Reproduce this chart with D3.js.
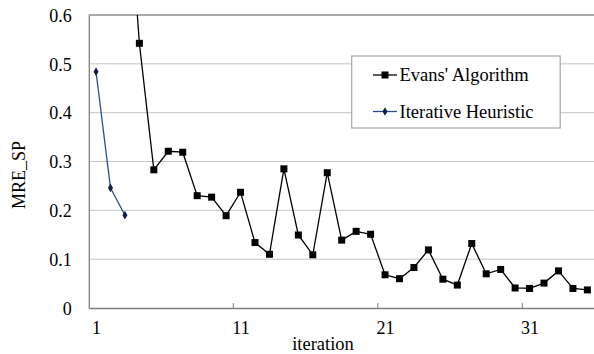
<!DOCTYPE html>
<html>
<head>
<meta charset="utf-8">
<script src="https://cdn.jsdelivr.net/npm/d3@7"></script>
<style>
  html, body { margin: 0; padding: 0; background: #fff; }
  svg { display: block; }
</style>
</head>
<body>
<svg id="chart" width="594" height="354"></svg>
<script>
// ---- data ----
const iterations = d3.range(1, 36);
const evansValues = [null, null, 0.95, 0.542, 0.283, 0.321, 0.319, 0.230, 0.227, 0.189,
  0.237, 0.134, 0.110, 0.285, 0.1495, 0.109, 0.277, 0.139, 0.157, 0.151,
  0.068, 0.060, 0.083, 0.119, 0.059, 0.047, 0.132, 0.070, 0.079, 0.041,
  0.040, 0.051, 0.076, 0.040, 0.037];
const heuristicValues = [0.484, 0.246, 0.190];
const yTicks = [0, 0.1, 0.2, 0.3, 0.4, 0.5, 0.6];
const xTickLabels = [1, 11, 21, 31];
const seriesNames = ["Evans' Algorithm", "Iterative Heuristic"];

// ---- layout ----
const FONT = "'Liberation Serif', 'Times New Roman', serif";
const svg = d3.select("#chart");
const pLeft = 88.8, pRight = 594.6, pTop = 15, pBottom = 308;
const x = d3.scaleLinear().domain([0.5, 35.5]).range([pLeft, pRight]);
const y = d3.scaleLinear().domain([0, 0.6]).range([pBottom, pTop]);

svg.append("defs").append("clipPath").attr("id", "plotclip")
  .append("rect").attr("x", pLeft).attr("y", pTop).attr("width", pRight - pLeft).attr("height", pBottom - pTop);

// gridlines
svg.append("g").selectAll("line").data(yTicks.filter(d => d > 0 && d < 0.6)).join("line")
  .attr("x1", pLeft).attr("x2", pRight)
  .attr("y1", d => y(d)).attr("y2", d => y(d))
  .attr("stroke", "#c4c4c4").attr("stroke-width", 1);

// plot border (top)
svg.append("line").attr("x1", pLeft).attr("x2", pRight).attr("y1", y(0.6)).attr("y2", y(0.6))
  .attr("stroke", "#8c8c8c").attr("stroke-width", 1.3);

// y axis
const yAxis = d3.axisLeft(y).tickValues(yTicks).tickSize(0).tickPadding(17)
  .tickFormat(d => d === 0 ? "0" : d3.format(".1f")(d));
const gy = svg.append("g").attr("transform", `translate(${pLeft},0)`).call(yAxis);
gy.select(".domain").attr("stroke", "#7f7f7f").attr("stroke-width", 1.3);
gy.selectAll("text").style("font-size", "18px").attr("dy", "0.35em");

// x axis
const xAxis = d3.axisBottom(x).tickValues(xTickLabels).tickSize(0).tickPadding(13)
  .tickFormat(d3.format("d"));
const gx = svg.append("g").attr("transform", `translate(0,${pBottom})`).call(xAxis);
gx.select(".domain").attr("stroke", "#7f7f7f").attr("stroke-width", 1.3);
gx.selectAll("text").style("font-size", "18px");
// inner tick marks between categories
gx.append("g").selectAll("line").data([10.5, 20.5, 30.5]).join("line")
  .attr("x1", d => x(d)).attr("x2", d => x(d)).attr("y1", 0).attr("y2", -5)
  .attr("stroke", "#7f7f7f").attr("stroke-width", 1);

// axis titles
svg.append("text").attr("x", 323).attr("y", 350).attr("text-anchor", "middle")
  .style("font-size", "18.5px").text("iteration");
svg.append("text").attr("transform", "translate(25,175) rotate(-90)").attr("text-anchor", "middle")
  .style("font-size", "18px").text("MRE_SP");

// series
const plot = svg.append("g").attr("clip-path", "url(#plotclip)");
const evans = iterations.map((it, i) => ({ it, v: evansValues[i] })).filter(d => d.v != null);
const heur = heuristicValues.map((v, i) => ({ it: iterations[i], v }));
const line = d3.line().x(d => x(d.it)).y(d => y(d.v));

plot.append("path").datum(evans).attr("d", line)
  .attr("fill", "none").attr("stroke", "#000").attr("stroke-width", 1.3);
plot.append("g").selectAll("rect").data(evans).join("rect")
  .attr("x", d => x(d.it) - 3.5).attr("y", d => y(d.v) - 3.5)
  .attr("width", 7).attr("height", 7).attr("fill", "#000");

plot.append("path").datum(heur).attr("d", line)
  .attr("fill", "none").attr("stroke", "#2b4f8c").attr("stroke-width", 1.3);
const diamond = d3.symbol().type(d3.symbolDiamond).size(22);
plot.append("g").selectAll("path").data(heur).join("path")
  .attr("transform", d => `translate(${x(d.it)},${y(d.v)})`)
  .attr("d", diamond).attr("fill", "#0d1f45");

// legend
const lg = svg.append("g");
lg.append("rect").attr("x", 351.7).attr("y", 56).attr("width", 208.5).attr("height", 72)
  .attr("fill", "#fff").attr("stroke", "#a6a6a6").attr("stroke-width", 1.2);
const rows = [
  { name: seriesNames[0], color: "#000", marker: "square", yy: 75 },
  { name: seriesNames[1], color: "#2b4f8c", marker: "diamond", yy: 111.5 }
];
rows.forEach(r => {
  lg.append("line").attr("x1", 373).attr("x2", 397).attr("y1", r.yy).attr("y2", r.yy)
    .attr("stroke", r.color).attr("stroke-width", 1.3);
  if (r.marker === "square") {
    lg.append("rect").attr("x", 385 - 3.5).attr("y", r.yy - 3.5).attr("width", 7).attr("height", 7).attr("fill", "#000");
  } else {
    lg.append("path").attr("transform", `translate(385,${r.yy})`).attr("d", diamond).attr("fill", "#0d1f45");
  }
  lg.append("text").attr("x", 399.5).attr("y", r.yy).attr("dy", "0.35em")
    .style("font-size", "18.5px").text(r.name);
});

svg.selectAll("text").style("font-family", FONT).attr("fill", "#000");
</script>
</body>
</html>
